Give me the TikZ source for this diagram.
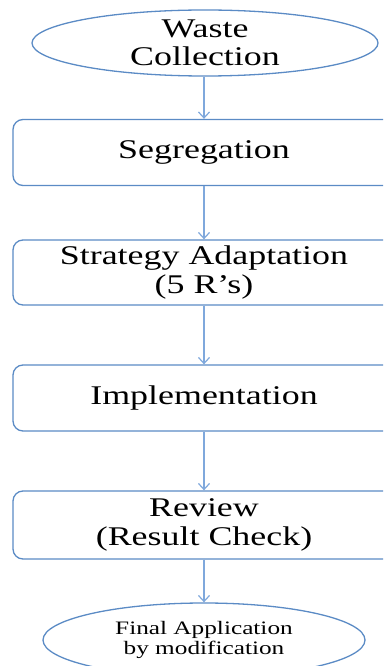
\documentclass[tikz,border=0pt]{standalone}
\usepackage{fontspec}
\newfontfamily\widefont[FakeStretch=1.33]{Liberation Serif}
\usetikzlibrary{shapes.geometric,arrows.meta}
\definecolor{boxblue}{HTML}{5B8BC5}
\definecolor{arrowblue}{HTML}{7FA8DC}
\begin{document}
\begin{tikzpicture}[x=1pt,y=-1pt,
    stepbox/.style={draw=boxblue, line width=1.3pt, rounded corners=10pt,
        minimum width=382pt, minimum height=66pt, inner sep=0pt,
        align=center, font=\widefont\fontsize{27}{28.5}\selectfont},
    endbox/.style={draw=boxblue, line width=1.3pt, ellipse, inner sep=0pt, align=center},
    flow/.style={draw=arrowblue, line width=1.2pt, -{Straight Barb[length=6pt,width=11pt]}}]
    \clip (0,0) rectangle (383,666);

    \node[endbox, minimum width=346pt, minimum height=66pt,
          font=\widefont\fontsize{27}{28.5}\selectfont] (collect) at (205,43) {Waste\\Collection};
    \node[stepbox] (segr) at (204,152.5) {Segregation};
    \node[stepbox, minimum height=65pt] (strat) at (204,272.5) {Strategy Adaptation\\(5 R’s)};
    \node[stepbox] (impl) at (204,398) {Implementation};
    \node[stepbox, minimum height=68pt] (review) at (204,525) {Review\\(Result Check)};
    \node[endbox, minimum width=322pt, minimum height=74pt,
          font=\widefont\fontsize{19}{20.5}\selectfont] (final) at (204,640) {Final Application\\by modification};

    \draw[flow] (collect.south -| segr.north) -- (segr.north);
    \draw[flow] (segr) -- (strat);
    \draw[flow] (strat) -- (impl);
    \draw[flow] (impl) -- (review);
    \draw[flow] (review) -- (final);

\end{tikzpicture}
\end{document}
